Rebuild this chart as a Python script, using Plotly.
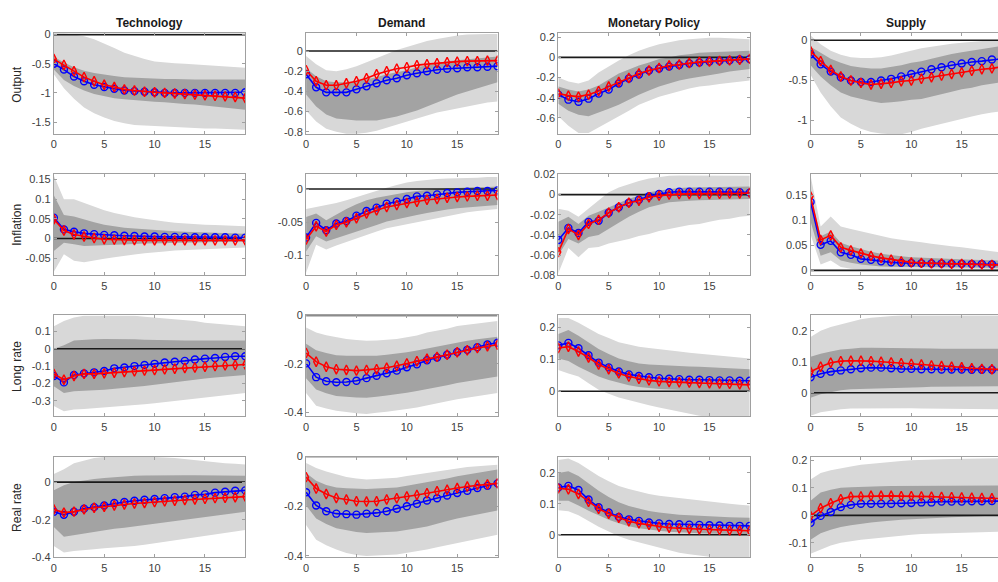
import plotly.graph_objects as go

horizon = list(range(20))
shock_names = ["Technology", "Demand", "Monetary Policy", "Supply"]
variable_names = ["Output", "Inflation", "Long rate", "Real rate"]

# ---------------- Output ----------------
out_tech_b = [-0.50,-0.60,-0.72,-0.80,-0.86,-0.90,-0.93,-0.96,-0.97,-0.98,-0.99,-1.00,-1.00,-1.00,-1.00,-1.00,-1.00,-1.00,-1.00,-0.99]
out_tech_r = [-0.42,-0.52,-0.63,-0.73,-0.80,-0.86,-0.90,-0.94,-0.96,-0.98,-0.99,-1.00,-1.01,-1.02,-1.03,-1.04,-1.05,-1.06,-1.07,-1.09]
out_tech_hi90 = [0.02,0.02,0.0,-0.03,-0.08,-0.15,-0.23,-0.31,-0.37,-0.42,-0.46,-0.48,-0.49,-0.50,-0.51,-0.52,-0.53,-0.54,-0.56,-0.57]
out_tech_hi68 = [-0.38,-0.48,-0.56,-0.62,-0.66,-0.69,-0.71,-0.73,-0.74,-0.75,-0.76,-0.76,-0.76,-0.77,-0.77,-0.77,-0.77,-0.77,-0.77,-0.77]
out_tech_lo68 = [-0.60,-0.78,-0.88,-0.96,-1.02,-1.06,-1.09,-1.11,-1.13,-1.14,-1.15,-1.16,-1.17,-1.19,-1.20,-1.22,-1.23,-1.25,-1.27,-1.29]
out_tech_lo90 = [-0.68,-0.92,-1.10,-1.25,-1.35,-1.42,-1.48,-1.52,-1.55,-1.56,-1.57,-1.58,-1.59,-1.60,-1.60,-1.61,-1.61,-1.62,-1.62,-1.63]

out_dem_b = [-0.23,-0.36,-0.41,-0.41,-0.41,-0.38,-0.35,-0.32,-0.29,-0.27,-0.24,-0.22,-0.20,-0.185,-0.175,-0.17,-0.16,-0.16,-0.155,-0.15]
out_dem_r = [-0.19,-0.30,-0.34,-0.34,-0.32,-0.30,-0.27,-0.23,-0.20,-0.175,-0.16,-0.14,-0.13,-0.12,-0.11,-0.105,-0.10,-0.10,-0.095,-0.095]
out_dem_hi90 = [-0.05,-0.13,-0.19,-0.20,-0.18,-0.15,-0.11,-0.07,-0.03,0.01,0.04,0.07,0.10,0.12,0.14,0.155,0.165,0.17,0.17,0.17]
out_dem_hi68 = [-0.17,-0.25,-0.30,-0.31,-0.31,-0.30,-0.28,-0.26,-0.23,-0.21,-0.19,-0.16,-0.14,-0.12,-0.10,-0.09,-0.08,-0.07,-0.06,-0.055]
out_dem_lo68 = [-0.43,-0.55,-0.63,-0.67,-0.68,-0.69,-0.69,-0.69,-0.67,-0.65,-0.62,-0.59,-0.55,-0.51,-0.47,-0.43,-0.40,-0.37,-0.34,-0.31]
out_dem_lo90 = [-0.59,-0.70,-0.77,-0.80,-0.82,-0.82,-0.81,-0.79,-0.76,-0.73,-0.70,-0.67,-0.64,-0.61,-0.59,-0.57,-0.55,-0.53,-0.51,-0.50]

out_mon_b = [-0.37,-0.42,-0.44,-0.41,-0.36,-0.32,-0.26,-0.21,-0.17,-0.13,-0.11,-0.09,-0.075,-0.06,-0.05,-0.04,-0.035,-0.03,-0.02,-0.017]
out_mon_r = [-0.36,-0.38,-0.39,-0.37,-0.335,-0.29,-0.245,-0.205,-0.16,-0.13,-0.105,-0.08,-0.07,-0.055,-0.045,-0.04,-0.035,-0.03,-0.025,-0.015]
out_mon_hi90 = [-0.20,-0.24,-0.26,-0.23,-0.15,-0.09,-0.03,0.02,0.065,0.10,0.13,0.15,0.17,0.18,0.19,0.195,0.195,0.19,0.185,0.18]
out_mon_hi68 = [-0.29,-0.32,-0.34,-0.32,-0.28,-0.22,-0.16,-0.12,-0.08,-0.05,-0.016,0.0,0.02,0.03,0.045,0.05,0.055,0.06,0.065,0.065]
out_mon_lo68 = [-0.46,-0.53,-0.57,-0.585,-0.55,-0.51,-0.47,-0.42,-0.37,-0.33,-0.29,-0.26,-0.23,-0.21,-0.19,-0.175,-0.16,-0.14,-0.125,-0.115]
out_mon_lo90 = [-0.585,-0.68,-0.75,-0.75,-0.70,-0.645,-0.585,-0.53,-0.47,-0.43,-0.39,-0.36,-0.335,-0.31,-0.29,-0.28,-0.265,-0.25,-0.24,-0.23]

out_sup_b = [-0.175,-0.30,-0.39,-0.46,-0.50,-0.52,-0.52,-0.50,-0.48,-0.45,-0.42,-0.39,-0.36,-0.335,-0.31,-0.29,-0.27,-0.26,-0.24,-0.23]
out_sup_r = [-0.135,-0.26,-0.37,-0.45,-0.50,-0.53,-0.55,-0.54,-0.53,-0.51,-0.50,-0.48,-0.46,-0.44,-0.42,-0.40,-0.38,-0.36,-0.35,-0.33]
out_sup_hi90 = [0.06,-0.05,-0.13,-0.18,-0.21,-0.22,-0.22,-0.21,-0.19,-0.16,-0.13,-0.10,-0.08,-0.06,-0.045,-0.03,-0.02,-0.01,0.0,0.0]
out_sup_hi68 = [-0.08,-0.16,-0.23,-0.28,-0.32,-0.34,-0.35,-0.35,-0.33,-0.31,-0.28,-0.26,-0.23,-0.20,-0.17,-0.15,-0.13,-0.11,-0.09,-0.07]
out_sup_lo68 = [-0.31,-0.45,-0.56,-0.65,-0.70,-0.73,-0.76,-0.78,-0.77,-0.76,-0.74,-0.73,-0.70,-0.67,-0.64,-0.61,-0.59,-0.56,-0.54,-0.52]
out_sup_lo90 = [-0.43,-0.65,-0.82,-0.96,-1.04,-1.10,-1.14,-1.16,-1.17,-1.17,-1.14,-1.10,-1.07,-1.04,-1.01,-0.98,-0.95,-0.92,-0.90,-0.88]

# ---------------- Inflation ----------------
inf_tech_b = [0.053,0.023,0.017,0.013,0.011,0.009,0.008,0.007,0.006,0.005,0.005,0.004,0.004,0.004,0.003,0.003,0.003,0.003,0.002,0.002]
inf_tech_r = [0.049,0.020,0.010,0.005,0.001,-0.002,-0.003,-0.004,-0.004,-0.005,-0.005,-0.005,-0.005,-0.005,-0.005,-0.005,-0.005,-0.005,-0.005,-0.005]
inf_tech_hi90 = [0.16,0.10,0.10,0.09,0.08,0.072,0.065,0.059,0.054,0.050,0.046,0.043,0.040,0.038,0.036,0.035,0.034,0.033,0.032,0.031]
inf_tech_hi68 = [0.11,0.06,0.056,0.048,0.041,0.035,0.031,0.027,0.025,0.023,0.021,0.019,0.018,0.017,0.016,0.015,0.014,0.013,0.012,0.012]
inf_tech_lo68 = [-0.032,-0.011,-0.015,-0.019,-0.018,-0.017,-0.016,-0.015,-0.014,-0.013,-0.012,-0.012,-0.011,-0.011,-0.010,-0.010,-0.009,-0.009,-0.008,-0.008]
inf_tech_lo90 = [-0.085,-0.04,-0.057,-0.061,-0.056,-0.052,-0.048,-0.044,-0.041,-0.038,-0.035,-0.033,-0.031,-0.029,-0.028,-0.027,-0.026,-0.025,-0.024,-0.023]

inf_dem_b = [-0.073,-0.051,-0.062,-0.052,-0.048,-0.040,-0.033,-0.028,-0.022,-0.019,-0.015,-0.011,-0.010,-0.008,-0.006,-0.005,-0.004,-0.003,-0.003,-0.002]
inf_dem_r = [-0.076,-0.056,-0.064,-0.054,-0.050,-0.044,-0.037,-0.032,-0.027,-0.024,-0.021,-0.019,-0.016,-0.015,-0.013,-0.012,-0.011,-0.010,-0.010,-0.009]
inf_dem_hi90 = [-0.030,-0.027,-0.025,-0.021,-0.017,-0.012,-0.007,-0.003,0.002,0.006,0.010,0.012,0.014,0.015,0.016,0.016,0.017,0.017,0.018,0.018]
inf_dem_hi68 = [-0.042,-0.037,-0.047,-0.038,-0.030,-0.023,-0.017,-0.013,-0.010,-0.007,-0.005,-0.003,-0.001,0.000,0.001,0.002,0.002,0.003,0.003,0.004]
inf_dem_lo68 = [-0.094,-0.071,-0.079,-0.074,-0.069,-0.064,-0.059,-0.054,-0.049,-0.045,-0.042,-0.039,-0.036,-0.033,-0.031,-0.029,-0.027,-0.026,-0.025,-0.024]
inf_dem_lo90 = [-0.126,-0.084,-0.091,-0.085,-0.079,-0.074,-0.069,-0.064,-0.059,-0.055,-0.052,-0.049,-0.046,-0.043,-0.040,-0.038,-0.035,-0.033,-0.031,-0.030]

inf_mon_b = [-0.045,-0.033,-0.038,-0.027,-0.026,-0.018,-0.0125,-0.008,-0.005,-0.0016,0.0007,0.0023,0.003,0.003,0.003,0.003,0.003,0.003,0.0025,0.002]
inf_mon_r = [-0.057,-0.034,-0.040,-0.029,-0.025,-0.018,-0.0125,-0.008,-0.006,-0.0026,-0.001,0.0,0.0005,0.0007,0.0007,0.0007,0.0008,0.001,0.0012,0.0016]
inf_mon_hi90 = [-0.014,-0.016,-0.022,-0.014,-0.006,0.0023,0.007,0.0105,0.0135,0.016,0.0175,0.0187,0.019,0.019,0.019,0.019,0.019,0.019,0.0188,0.0187]
inf_mon_hi68 = [-0.027,-0.022,-0.029,-0.021,-0.017,-0.0125,-0.008,-0.004,-0.001,0.0023,0.004,0.0056,0.0065,0.007,0.0072,0.0075,0.0077,0.0078,0.008,0.008]
inf_mon_lo68 = [-0.060,-0.044,-0.0485,-0.042,-0.040,-0.034,-0.028,-0.022,-0.017,-0.0125,-0.010,-0.0075,-0.0065,-0.006,-0.0055,-0.005,-0.0048,-0.0046,-0.0044,-0.0043]
inf_mon_lo90 = [-0.078,-0.053,-0.062,-0.053,-0.052,-0.0485,-0.046,-0.044,-0.041,-0.039,-0.036,-0.034,-0.032,-0.030,-0.029,-0.027,-0.025,-0.024,-0.022,-0.021]

inf_sup_b = [0.137,0.051,0.059,0.036,0.031,0.023,0.021,0.018,0.016,0.015,0.0145,0.014,0.0138,0.0135,0.013,0.013,0.0125,0.0125,0.012,0.012]
inf_sup_r = [0.148,0.061,0.070,0.046,0.040,0.034,0.029,0.025,0.0215,0.018,0.016,0.015,0.014,0.014,0.013,0.013,0.012,0.012,0.011,0.011]
inf_sup_hi90 = [0.19,0.088,0.108,0.088,0.083,0.078,0.073,0.068,0.064,0.061,0.059,0.056,0.053,0.050,0.048,0.046,0.043,0.041,0.038,0.036]
inf_sup_hi68 = [0.15,0.068,0.078,0.055,0.048,0.042,0.037,0.033,0.030,0.028,0.026,0.025,0.024,0.023,0.022,0.0215,0.021,0.0205,0.020,0.0196]
inf_sup_lo68 = [0.098,0.029,0.036,0.0196,0.015,0.0117,0.0095,0.0078,0.007,0.0068,0.0065,0.0062,0.006,0.0058,0.0056,0.0055,0.0053,0.0052,0.0051,0.005]
inf_sup_lo90 = [0.072,0.0117,0.0196,0.0065,0.003,0.0013,0.0,-0.0013,-0.0015,-0.0017,-0.002,-0.002,-0.0022,-0.0024,-0.0025,-0.0026,-0.0027,-0.0028,-0.0029,-0.003]

# ---------------- Long rate ----------------
lng_tech_b = [-0.157,-0.194,-0.151,-0.142,-0.136,-0.128,-0.113,-0.108,-0.100,-0.094,-0.087,-0.079,-0.075,-0.070,-0.062,-0.057,-0.053,-0.047,-0.043,-0.043]
lng_tech_r = [-0.145,-0.179,-0.157,-0.145,-0.145,-0.142,-0.138,-0.134,-0.130,-0.126,-0.123,-0.119,-0.115,-0.111,-0.108,-0.104,-0.100,-0.096,-0.094,-0.091]
lng_tech_hi90 = [0.13,0.16,0.18,0.19,0.19,0.19,0.19,0.19,0.19,0.185,0.18,0.175,0.17,0.165,0.16,0.15,0.145,0.14,0.135,0.13]
lng_tech_hi68 = [0.0,0.02,0.047,0.052,0.055,0.057,0.057,0.057,0.055,0.052,0.05,0.048,0.047,0.047,0.047,0.047,0.047,0.047,0.047,0.047]
lng_tech_lo68 = [-0.217,-0.255,-0.245,-0.242,-0.239,-0.236,-0.232,-0.226,-0.221,-0.215,-0.208,-0.200,-0.193,-0.187,-0.180,-0.172,-0.166,-0.160,-0.155,-0.151]
lng_tech_lo90 = [-0.33,-0.36,-0.35,-0.347,-0.343,-0.34,-0.336,-0.33,-0.325,-0.32,-0.315,-0.308,-0.30,-0.295,-0.288,-0.283,-0.276,-0.269,-0.262,-0.255]

lng_dem_b = [-0.198,-0.255,-0.272,-0.276,-0.275,-0.270,-0.259,-0.249,-0.239,-0.228,-0.214,-0.202,-0.185,-0.174,-0.162,-0.151,-0.142,-0.131,-0.120,-0.113]
lng_dem_r = [-0.155,-0.191,-0.212,-0.222,-0.225,-0.228,-0.225,-0.222,-0.216,-0.208,-0.198,-0.189,-0.179,-0.171,-0.162,-0.152,-0.144,-0.135,-0.127,-0.121]
lng_dem_hi90 = [-0.050,-0.070,-0.082,-0.090,-0.097,-0.101,-0.104,-0.103,-0.100,-0.097,-0.090,-0.083,-0.070,-0.063,-0.055,-0.043,-0.038,-0.032,-0.027,-0.023]
lng_dem_hi68 = [-0.117,-0.144,-0.155,-0.164,-0.166,-0.167,-0.168,-0.166,-0.162,-0.158,-0.152,-0.145,-0.137,-0.128,-0.119,-0.110,-0.104,-0.098,-0.093,-0.088]
lng_dem_lo68 = [-0.259,-0.306,-0.322,-0.333,-0.337,-0.339,-0.340,-0.336,-0.331,-0.326,-0.319,-0.312,-0.306,-0.297,-0.288,-0.279,-0.272,-0.265,-0.258,-0.252]
lng_dem_lo90 = [-0.320,-0.373,-0.385,-0.394,-0.400,-0.404,-0.407,-0.402,-0.398,-0.394,-0.387,-0.380,-0.373,-0.364,-0.355,-0.346,-0.339,-0.332,-0.326,-0.320]

lng_mon_b = [0.144,0.152,0.135,0.113,0.090,0.075,0.062,0.053,0.048,0.044,0.041,0.039,0.038,0.036,0.036,0.035,0.034,0.034,0.033,0.033]
lng_mon_r = [0.136,0.140,0.125,0.106,0.084,0.069,0.056,0.046,0.039,0.034,0.031,0.029,0.028,0.027,0.026,0.025,0.024,0.023,0.022,0.020]
lng_mon_hi90 = [0.230,0.230,0.215,0.198,0.180,0.167,0.154,0.147,0.140,0.136,0.133,0.129,0.125,0.121,0.118,0.115,0.112,0.109,0.106,0.103]
lng_mon_hi68 = [0.180,0.192,0.174,0.153,0.133,0.117,0.103,0.094,0.087,0.084,0.082,0.080,0.079,0.078,0.077,0.075,0.074,0.072,0.070,0.069]
lng_mon_lo68 = [0.103,0.095,0.077,0.061,0.046,0.035,0.026,0.019,0.013,0.010,0.007,0.005,0.004,0.003,0.003,0.002,0.002,0.001,0.001,0.000]
lng_mon_lo90 = [0.067,0.056,0.046,0.025,0.005,-0.008,-0.020,-0.028,-0.036,-0.044,-0.051,-0.058,-0.065,-0.071,-0.077,-0.08,-0.08,-0.08,-0.08,-0.08]

lng_sup_b = [0.050,0.061,0.068,0.072,0.076,0.079,0.081,0.081,0.079,0.077,0.077,0.076,0.076,0.075,0.075,0.075,0.074,0.074,0.074,0.074]
lng_sup_r = [0.068,0.084,0.097,0.102,0.103,0.103,0.102,0.100,0.098,0.095,0.093,0.091,0.088,0.086,0.084,0.082,0.079,0.077,0.076,0.075]
lng_sup_hi90 = [0.180,0.200,0.212,0.220,0.230,0.237,0.242,0.245,0.247,0.25,0.25,0.25,0.25,0.25,0.25,0.25,0.25,0.25,0.25,0.25]
lng_sup_hi68 = [0.116,0.126,0.133,0.139,0.142,0.145,0.145,0.145,0.145,0.144,0.144,0.143,0.143,0.142,0.142,0.142,0.142,0.142,0.142,0.142]
lng_sup_lo68 = [-0.016,-0.005,0.002,0.008,0.011,0.013,0.014,0.015,0.016,0.016,0.017,0.018,0.019,0.019,0.020,0.020,0.020,0.021,0.021,0.021]
lng_sup_lo90 = [-0.074,-0.063,-0.057,-0.053,-0.051,-0.050,-0.050,-0.050,-0.050,-0.050,-0.050,-0.051,-0.051,-0.051,-0.052,-0.052,-0.052,-0.053,-0.053,-0.053]

# ---------------- Real rate ----------------
real_tech_b = [-0.157,-0.174,-0.157,-0.141,-0.133,-0.124,-0.111,-0.106,-0.099,-0.094,-0.090,-0.085,-0.080,-0.077,-0.068,-0.065,-0.056,-0.051,-0.046,-0.044]
real_tech_r = [-0.145,-0.162,-0.157,-0.145,-0.136,-0.131,-0.124,-0.119,-0.114,-0.111,-0.106,-0.102,-0.099,-0.095,-0.092,-0.089,-0.085,-0.083,-0.080,-0.077]
real_tech_hi90 = [0.043,0.068,0.100,0.115,0.128,0.133,0.136,0.137,0.137,0.136,0.134,0.131,0.128,0.122,0.116,0.110,0.105,0.100,0.097,0.094]
real_tech_hi68 = [-0.043,-0.017,0.000,0.009,0.017,0.022,0.027,0.031,0.034,0.035,0.036,0.037,0.037,0.037,0.036,0.036,0.035,0.035,0.034,0.034]
real_tech_lo68 = [-0.238,-0.290,-0.280,-0.272,-0.264,-0.256,-0.248,-0.243,-0.238,-0.230,-0.222,-0.216,-0.208,-0.200,-0.192,-0.187,-0.180,-0.172,-0.164,-0.157]
real_tech_lo90 = [-0.340,-0.374,-0.366,-0.361,-0.357,-0.352,-0.347,-0.343,-0.340,-0.333,-0.325,-0.318,-0.310,-0.302,-0.295,-0.289,-0.281,-0.272,-0.263,-0.255]

real_dem_b = [-0.144,-0.197,-0.220,-0.230,-0.232,-0.234,-0.230,-0.227,-0.220,-0.210,-0.200,-0.190,-0.177,-0.168,-0.157,-0.147,-0.138,-0.127,-0.118,-0.108]
real_dem_r = [-0.083,-0.129,-0.151,-0.167,-0.173,-0.180,-0.181,-0.180,-0.173,-0.168,-0.161,-0.155,-0.148,-0.140,-0.134,-0.127,-0.121,-0.115,-0.112,-0.108]
real_dem_hi90 = [-0.026,-0.046,-0.060,-0.072,-0.082,-0.088,-0.092,-0.090,-0.088,-0.085,-0.078,-0.072,-0.066,-0.060,-0.053,-0.046,-0.042,-0.039,-0.036,-0.033]
real_dem_hi68 = [-0.066,-0.098,-0.115,-0.125,-0.128,-0.130,-0.131,-0.129,-0.127,-0.125,-0.118,-0.111,-0.105,-0.097,-0.088,-0.079,-0.072,-0.065,-0.058,-0.052]
real_dem_lo68 = [-0.197,-0.249,-0.272,-0.289,-0.298,-0.304,-0.308,-0.306,-0.304,-0.302,-0.296,-0.289,-0.282,-0.271,-0.260,-0.249,-0.241,-0.233,-0.225,-0.217]
real_dem_lo90 = [-0.276,-0.335,-0.357,-0.374,-0.388,-0.396,-0.400,-0.398,-0.396,-0.394,-0.388,-0.381,-0.374,-0.365,-0.357,-0.348,-0.340,-0.331,-0.323,-0.315]

real_mon_b = [0.153,0.158,0.145,0.114,0.089,0.072,0.058,0.050,0.045,0.040,0.037,0.035,0.034,0.033,0.032,0.031,0.030,0.029,0.029,0.029]
real_mon_r = [0.150,0.147,0.132,0.107,0.084,0.068,0.055,0.044,0.037,0.032,0.026,0.023,0.021,0.019,0.018,0.017,0.016,0.015,0.014,0.013]
real_mon_hi90 = [0.242,0.247,0.232,0.210,0.190,0.173,0.158,0.148,0.139,0.132,0.126,0.122,0.118,0.114,0.110,0.107,0.104,0.100,0.097,0.095]
real_mon_hi68 = [0.200,0.205,0.190,0.165,0.142,0.122,0.105,0.093,0.084,0.077,0.072,0.068,0.065,0.063,0.061,0.060,0.058,0.057,0.056,0.055]
real_mon_lo68 = [0.110,0.110,0.095,0.078,0.063,0.049,0.037,0.028,0.021,0.016,0.013,0.010,0.008,0.006,0.005,0.004,0.003,0.003,0.002,0.002]
real_mon_lo90 = [0.079,0.076,0.063,0.045,0.026,0.010,-0.005,-0.016,-0.026,-0.034,-0.042,-0.050,-0.058,-0.063,-0.068,-0.071,-0.074,-0.075,-0.076,-0.076]

real_sup_b = [-0.027,-0.002,0.012,0.030,0.038,0.042,0.042,0.042,0.042,0.044,0.045,0.047,0.047,0.050,0.050,0.050,0.051,0.051,0.052,0.052]
real_sup_r = [-0.002,0.026,0.044,0.059,0.068,0.069,0.071,0.071,0.071,0.070,0.070,0.069,0.068,0.067,0.066,0.065,0.064,0.063,0.062,0.061]
real_sup_hi90 = [0.130,0.154,0.164,0.172,0.178,0.184,0.188,0.192,0.196,0.198,0.200,0.202,0.203,0.204,0.205,0.206,0.207,0.207,0.208,0.208]
real_sup_hi68 = [0.053,0.083,0.093,0.100,0.102,0.104,0.105,0.106,0.107,0.107,0.107,0.108,0.108,0.108,0.108,0.108,0.109,0.109,0.109,0.109]
real_sup_lo68 = [-0.089,-0.065,-0.052,-0.042,-0.036,-0.030,-0.026,-0.022,-0.018,-0.016,-0.014,-0.012,-0.010,-0.009,-0.007,-0.006,-0.004,-0.003,-0.001,0.000]
real_sup_lo90 = [-0.140,-0.125,-0.110,-0.100,-0.094,-0.089,-0.085,-0.081,-0.077,-0.074,-0.071,-0.068,-0.066,-0.065,-0.064,-0.063,-0.062,-0.061,-0.060,-0.059]

# tick labels
x_tickvals = [0, 5, 10, 15]
y_tickvals = [
    [[-1.5, -1, -0.5, 0], [-0.8, -0.6, -0.4, -0.2, 0], [-0.6, -0.4, -0.2, 0, 0.2], [-1, -0.5, 0]],
    [[-0.05, 0, 0.05, 0.1, 0.15], [-0.1, -0.05, 0], [-0.08, -0.06, -0.04, -0.02, 0, 0.02], [0, 0.05, 0.1, 0.15]],
    [[-0.3, -0.2, -0.1, 0, 0.1], [-0.4, -0.2, 0], [0, 0.1, 0.2], [0, 0.1, 0.2]],
    [[-0.4, -0.2, 0], [-0.4, -0.2, 0], [0, 0.1, 0.2], [-0.1, 0, 0.1, 0.2]],
]

panels = [
    [(out_tech_b, out_tech_r, out_tech_lo90, out_tech_lo68, out_tech_hi68, out_tech_hi90),
     (out_dem_b, out_dem_r, out_dem_lo90, out_dem_lo68, out_dem_hi68, out_dem_hi90),
     (out_mon_b, out_mon_r, out_mon_lo90, out_mon_lo68, out_mon_hi68, out_mon_hi90),
     (out_sup_b, out_sup_r, out_sup_lo90, out_sup_lo68, out_sup_hi68, out_sup_hi90)],
    [(inf_tech_b, inf_tech_r, inf_tech_lo90, inf_tech_lo68, inf_tech_hi68, inf_tech_hi90),
     (inf_dem_b, inf_dem_r, inf_dem_lo90, inf_dem_lo68, inf_dem_hi68, inf_dem_hi90),
     (inf_mon_b, inf_mon_r, inf_mon_lo90, inf_mon_lo68, inf_mon_hi68, inf_mon_hi90),
     (inf_sup_b, inf_sup_r, inf_sup_lo90, inf_sup_lo68, inf_sup_hi68, inf_sup_hi90)],
    [(lng_tech_b, lng_tech_r, lng_tech_lo90, lng_tech_lo68, lng_tech_hi68, lng_tech_hi90),
     (lng_dem_b, lng_dem_r, lng_dem_lo90, lng_dem_lo68, lng_dem_hi68, lng_dem_hi90),
     (lng_mon_b, lng_mon_r, lng_mon_lo90, lng_mon_lo68, lng_mon_hi68, lng_mon_hi90),
     (lng_sup_b, lng_sup_r, lng_sup_lo90, lng_sup_lo68, lng_sup_hi68, lng_sup_hi90)],
    [(real_tech_b, real_tech_r, real_tech_lo90, real_tech_lo68, real_tech_hi68, real_tech_hi90),
     (real_dem_b, real_dem_r, real_dem_lo90, real_dem_lo68, real_dem_hi68, real_dem_hi90),
     (real_mon_b, real_mon_r, real_mon_lo90, real_mon_lo68, real_mon_hi68, real_mon_hi90),
     (real_sup_b, real_sup_r, real_sup_lo90, real_sup_lo68, real_sup_hi68, real_sup_hi90)],
]

# axis ranges (layout)
y_ranges = [
    [[-1.71, 0.02], [-0.826, 0.175], [-0.764, 0.238], [-1.17, 0.085]],
    [[-0.094, 0.163], [-0.130, 0.022], [-0.08, 0.02], [-0.01, 0.192]],
    [[-0.39, 0.192], [-0.417, 0.0], [-0.079, 0.238], [-0.076, 0.249]],
    [[-0.40, 0.136], [-0.406, 0.0], [-0.073, 0.253], [-0.153, 0.214]],
]

W, H = 998, 582
col_left = [51, 304, 557, 810]
plot_w = 192
row_top = [28, 172, 316, 460]
plot_h = 103

LIGHT = "#d8d8d8"
DARK = "#a3a3a3"
BLUE = "#0000ff"
RED = "#ff0000"
AXIS_COL = "#a0a0a0"
FONT_FAMILY = "Liberation Sans, Arial, sans-serif"
TICK_FONT = dict(family=FONT_FAMILY, size=11, color="#404040")


def fmt(v):
    return f"{v:g}"


fig = go.Figure()
layout = dict(
    width=W, height=H,
    margin=dict(l=0, r=0, t=0, b=0),
    paper_bgcolor="white", plot_bgcolor="white",
    showlegend=False,
    font=dict(family=FONT_FAMILY, color="#262626"),
)
annotations = []

for i in range(4):
    for j in range(4):
        k = i * 4 + j + 1
        xs = "x" if k == 1 else f"x{k}"
        ys = "y" if k == 1 else f"y{k}"
        xkey = "xaxis" if k == 1 else f"xaxis{k}"
        ykey = "yaxis" if k == 1 else f"yaxis{k}"
        b, r, lo90, lo68, hi68, hi90 = panels[i][j]

        fig.add_trace(go.Scatter(x=horizon + horizon[::-1], y=hi90 + lo90[::-1],
                                 fill="toself", fillcolor=LIGHT, mode="lines",
                                 line=dict(width=0, color=LIGHT), hoverinfo="skip",
                                 xaxis=xs, yaxis=ys))
        fig.add_trace(go.Scatter(x=horizon + horizon[::-1], y=hi68 + lo68[::-1],
                                 fill="toself", fillcolor=DARK, mode="lines",
                                 line=dict(width=0, color=DARK), hoverinfo="skip",
                                 xaxis=xs, yaxis=ys))
        fig.add_trace(go.Scatter(x=[horizon[0], horizon[-1]], y=[0, 0], mode="lines",
                                 line=dict(color="#1a1a1a", width=1.6), hoverinfo="skip",
                                 xaxis=xs, yaxis=ys))
        fig.add_trace(go.Scatter(x=horizon, y=b, mode="lines+markers",
                                 line=dict(color=BLUE, width=1.6),
                                 marker=dict(symbol="circle-open", size=7, color=BLUE,
                                             line=dict(width=1.4, color=BLUE)),
                                 xaxis=xs, yaxis=ys))
        fig.add_trace(go.Scatter(x=horizon, y=r, mode="lines+markers",
                                 line=dict(color=RED, width=1.6),
                                 marker=dict(symbol="diamond-tall-open", size=7, color=RED,
                                             line=dict(width=1.4, color=RED)),
                                 xaxis=xs, yaxis=ys))

        x0 = col_left[j] / W
        last_col = (j == 3)
        if last_col:
            x1 = 1.0
            xr = [0, 19 * (W - col_left[j]) / plot_w]
        else:
            x1 = (col_left[j] + plot_w) / W
            xr = [0, 19]
        y1 = 1 - row_top[i] / H
        y0 = 1 - (row_top[i] + plot_h) / H

        layout[xkey] = dict(
            domain=[x0, x1], anchor=ys, range=xr,
            tickvals=x_tickvals, ticktext=[fmt(v) for v in x_tickvals],
            ticks="inside", ticklen=3, tickcolor=AXIS_COL,
            showline=True, linecolor=AXIS_COL, linewidth=1, mirror="ticks",
            showgrid=False, zeroline=False, tickfont=TICK_FONT,
        )
        layout[ykey] = dict(
            domain=[y0, y1], anchor=xs, range=y_ranges[i][j],
            tickvals=y_tickvals[i][j], ticktext=[fmt(v) for v in y_tickvals[i][j]],
            ticks="inside", ticklen=3, tickcolor=AXIS_COL,
            showline=True, linecolor=AXIS_COL, linewidth=1,
            mirror=False if last_col else "ticks",
            showgrid=False, zeroline=False, tickfont=TICK_FONT,
        )

for j, name in enumerate(shock_names):
    annotations.append(dict(
        text=f"<b>{name}</b>", x=(col_left[j] + plot_w / 2) / W, y=1 - 17 / H,
        xref="paper", yref="paper", xanchor="center", yanchor="middle",
        showarrow=False, font=dict(size=12, color="#1a1a1a", family=FONT_FAMILY)))
for i, name in enumerate(variable_names):
    annotations.append(dict(
        text=name, x=14 / W, y=1 - (row_top[i] + plot_h / 2) / H,
        xref="paper", yref="paper", xanchor="center", yanchor="middle",
        textangle=-90, showarrow=False,
        font=dict(size=12, color="#262626", family=FONT_FAMILY)))

layout["annotations"] = annotations
fig.update_layout(**layout)
fig.write_html(
    "out.html",
    config={"displayModeBar": False},
    post_script="document.body.style.margin='0';document.body.style.overflow='hidden';",
)
